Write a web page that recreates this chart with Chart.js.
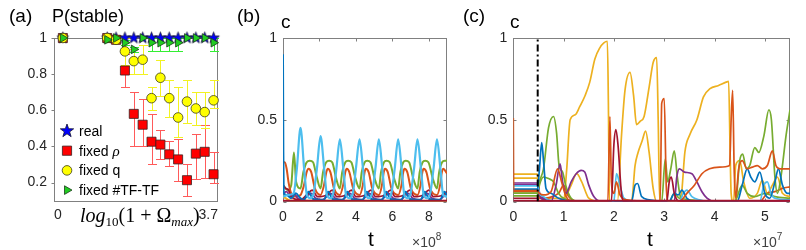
<!DOCTYPE html>
<html><head><meta charset="utf-8">
<script src="https://cdn.jsdelivr.net/npm/chart.js@4.4.1/dist/chart.umd.min.js"></script>
<style>
html,body{margin:0;padding:0;background:#fff;}
#wrap{position:relative;width:806px;height:250px;overflow:hidden;background:#fff;}
#wrap canvas{position:absolute;top:0;}
</style></head><body>
<div id="wrap">
<canvas id="ca" width="230" height="250" style="left:0px;width:230px;height:250px"></canvas>
<canvas id="cb" width="225" height="250" style="left:230px;width:225px;height:250px"></canvas>
<canvas id="cc" width="351" height="250" style="left:455px;width:351px;height:250px"></canvas>
</div>
<script>
// ================= DATA =================
// ---- panel (a): P(stable) vs log10(1+Omega_max) ----
const omegaA = [0.2, 1.2, 1.4, 1.6, 1.8, 2.0, 2.2, 2.4, 2.6, 2.8, 3.0, 3.2, 3.4, 3.6];
const pReal  = [1, 1, 1, 1, 1, 1, 1, 1, 1, 1, 1, 1, 1, 1];
const pRho   = [1, 1, 0.99, 0.82, 0.58, 0.52, 0.426, 0.41, 0.356, 0.328, 0.213, 0.36, 0.37, 0.246];
const pRhoLo = [1, 1, 0.99, 0.73, 0.40, 0.40, 0.30, 0.33, 0.29, 0.21, 0.125, 0.22, 0.225, 0.20];
const pRhoHi = [1, 1, 0.99, 0.91, 0.70, 0.66, 0.58, 0.49, 0.43, 0.44, 0.30, 0.47, 0.52, 0.37];
const pQ     = [1, 1, 0.99, 0.926, 0.872, 0.88, 0.667, 0.78, 0.667, 0.56, 0.648, 0.61, 0.59, 0.655];
const pQLo   = [1, 1, 0.99, 0.85, 0.80, 0.80, 0.60, 0.68, 0.56, 0.45, 0.53, 0.52, 0.50, 0.61];
const pQHi   = [1, 1, 0.99, 1.0, 0.94, 0.96, 0.73, 0.877, 0.77, 0.73, 0.77, 0.70, 0.70, 0.77];
const pTF    = [1, 0.99, 1, 0.974, 0.937, 1, 0.974, 0.974, 0.974, 0.974, 1, 1, 1, 0.974];
const pTFLo  = [1, 0.99, 1, 0.96, 0.92, 1, 0.928, 0.928, 0.928, 0.928, 1, 1, 1, 0.928];
const pTFHi  = [1, 0.99, 1, 0.99, 0.95, 1, 1.0, 1.0, 1.0, 1.0, 1, 1, 1, 1.0];
const legendNamesA = ['real', 'fixed ρ', 'fixed q', 'fixed #TF-TF'];
const xTicksA = [0, 3.7];
const xTickLabelsA = ['0', '3.7'];
const yTicksA = [0.2, 0.4, 0.6, 0.8, 1];
const yTickLabelsA = ['0.2', '0.4', '0.6', '0.8', '1'];

// ---- panel (b): c vs t (units of 1e8) ----
const bLightBlue = [[0,0.03],[0.3,0.04],[0.58,0.05],[0.76,0.2],[0.96,0.45],[1.16,0.2],[1.31,0.04],[1.5,0.02],[1.68,0.05],[1.86,0.2],[2.06,0.40],[2.26,0.2],[2.41,0.04],[2.6,0.02],[2.76,0.05],[2.93,0.2],[3.12,0.38],[3.31,0.2],[3.46,0.04],[3.65,0.02],[3.83,0.05],[4.0,0.2],[4.2,0.38],[4.39,0.2],[4.54,0.04],[4.72,0.02],[4.89,0.05],[5.07,0.2],[5.26,0.38],[5.45,0.2],[5.6,0.04],[5.78,0.02],[5.95,0.05],[6.13,0.2],[6.32,0.38],[6.51,0.2],[6.66,0.04],[6.84,0.02],[7.01,0.05],[7.19,0.2],[7.38,0.38],[7.57,0.2],[7.72,0.04],[7.9,0.02],[8.08,0.05],[8.26,0.2],[8.45,0.38],[8.64,0.2],[8.79,0.04],[9,0.03]];
const bGreen = [[0,0.1],[0.25,0.07],[0.45,0.1],[0.6,0.3],[0.72,0.12],[0.96,0.08],[1.12,0.18],[1.3,0.24],[1.47,0.25],[1.65,0.24],[1.85,0.15],[2.06,0.08],[2.2,0.18],[2.37,0.24],[2.53,0.25],[2.7,0.24],[2.92,0.14],[3.12,0.08],[3.25,0.18],[3.42,0.24],[3.57,0.25],[3.75,0.24],[3.98,0.14],[4.2,0.08],[4.32,0.18],[4.48,0.24],[4.62,0.25],[4.8,0.24],[5.03,0.14],[5.26,0.08],[5.38,0.18],[5.54,0.24],[5.68,0.25],[5.86,0.24],[6.1,0.14],[6.32,0.08],[6.44,0.18],[6.6,0.24],[6.74,0.25],[6.92,0.24],[7.15,0.14],[7.38,0.08],[7.5,0.18],[7.66,0.24],[7.8,0.25],[7.98,0.24],[8.22,0.14],[8.45,0.08],[8.57,0.18],[8.73,0.24],[8.88,0.25],[9,0.25]];
const bOrange = [[0,0.24],[0.1,0.24],[0.2,0.2],[0.3,0.12],[0.45,0.05],[0.7,0.03],[0.96,0.04],[1.15,0.1],[1.3,0.18],[1.4,0.2],[1.55,0.18],[1.75,0.08],[2.06,0.04],[2.25,0.1],[2.38,0.18],[2.46,0.2],[2.6,0.18],[2.8,0.08],[3.12,0.04],[3.3,0.1],[3.42,0.18],[3.5,0.2],[3.64,0.18],[3.85,0.08],[4.2,0.04],[4.38,0.1],[4.48,0.18],[4.55,0.2],[4.7,0.18],[4.9,0.08],[5.26,0.04],[5.43,0.1],[5.53,0.18],[5.6,0.2],[5.75,0.18],[5.95,0.08],[6.32,0.04],[6.5,0.1],[6.6,0.18],[6.67,0.2],[6.82,0.18],[7.02,0.08],[7.38,0.04],[7.55,0.1],[7.65,0.18],[7.72,0.2],[7.87,0.18],[8.07,0.08],[8.45,0.04],[8.62,0.1],[8.72,0.18],[8.8,0.2],[8.95,0.18],[9,0.17]];
const bBlue = [[0,0.9],[0.02,0.3],[0.04,0.05],[0.2,0.04],[0.45,0.02],[0.7,0.05],[0.96,0.02],[1.15,0.01],[1.4,0.06],[1.65,0.015],[2.06,0.01],[2.25,0.01],[2.48,0.06],[2.72,0.015],[3.12,0.01],[3.3,0.01],[3.53,0.06],[3.77,0.015],[4.2,0.01],[4.38,0.01],[4.6,0.06],[4.84,0.015],[5.26,0.01],[5.44,0.01],[5.66,0.06],[5.9,0.015],[6.32,0.01],[6.5,0.01],[6.72,0.06],[6.96,0.015],[7.38,0.01],[7.56,0.01],[7.78,0.06],[8.02,0.015],[8.45,0.01],[8.63,0.01],[8.85,0.06],[9,0.04]];
const bPurple = [[0,0.05],[0.2,0.06],[0.4,0.03],[0.6,0.05],[0.8,0.02],[1.1,0.01],[1.3,0.03],[1.55,0.05],[1.8,0.02],[2.15,0.01],[2.4,0.03],[2.62,0.05],[2.87,0.02],[3.22,0.01],[3.47,0.03],[3.68,0.05],[3.93,0.02],[4.3,0.01],[4.55,0.03],[4.75,0.05],[5.0,0.02],[5.36,0.01],[5.6,0.03],[5.8,0.05],[6.05,0.02],[6.42,0.01],[6.67,0.03],[6.87,0.05],[7.12,0.02],[7.48,0.01],[7.73,0.03],[7.93,0.05],[8.18,0.02],[8.55,0.01],[8.8,0.03],[9,0.05]];
const bDarkRed = [[0,0.1],[0.15,0.08],[0.3,0.07],[0.45,0.03],[0.96,0.01],[1.3,0.04],[1.6,0.07],[1.9,0.03],[2.4,0.04],[2.7,0.07],[2.95,0.03],[3.45,0.04],[3.75,0.07],[4.0,0.03],[4.52,0.04],[4.82,0.07],[5.08,0.03],[5.6,0.04],[5.9,0.07],[6.15,0.03],[6.65,0.04],[6.95,0.07],[7.2,0.03],[7.7,0.04],[8.0,0.07],[8.25,0.03],[8.78,0.04],[9,0.06]];
const bYellow = [[0,0.03],[0.15,0.02],[0.4,0.005],[9,0.003]];
const bBase = [[0,0.003],[9,0.003]];
const xTicksB = [0, 2, 4, 6, 8];
const xTickLabelsB = ['0', '2', '4', '6', '8'];
const yTicksBC = [0, 0.5, 1];
const yTickLabelsBC = ['0', '0.5', '1'];

// ---- panel (c): c vs t (units of 1e7) ----
const cYellow1 = [[0,0.168],[0.48,0.168],[0.52,0.05],[0.6,0.01],[1.0,0.0],[1.06,0.19],[1.13,0.5],[1.23,0.53],[1.32,0.58],[1.43,0.65],[1.52,0.73],[1.62,0.87],[1.72,0.94],[1.8,0.97],[1.87,0.98],[1.89,0.6],[1.91,0.0],[2.07,0.0],[2.15,0.4],[2.22,0.68],[2.32,0.79],[2.39,0.65],[2.45,0.47],[2.52,0.49],[2.6,0.52],[2.7,0.7],[2.78,0.85],[2.85,0.88],[2.88,0.5],[2.91,0.0],[3.33,0.0],[3.36,0.1],[3.41,0.3],[3.51,0.41],[3.65,0.5],[3.78,0.64],[3.91,0.69],[4.08,0.71],[4.23,0.73],[4.28,0.735],[4.31,0.3],[4.33,0.05],[4.37,0.0],[5.5,0.0]];
const cYellow2 = [[0,0.143],[0.48,0.143],[0.52,0.03],[0.7,0.02],[1.0,0.02],[1.15,0.1],[1.26,0.17],[1.36,0.12],[1.5,0.02],[1.7,0.0],[2.35,0.0],[2.42,0.22],[2.48,0.3],[2.56,0.37],[2.63,0.43],[2.7,0.3],[2.78,0.08],[2.85,0.0],[4.38,0.0],[4.42,0.22],[4.5,0.25],[4.58,0.12],[4.7,0.02],[4.85,0.05],[4.95,0.13],[5.05,0.05],[5.15,0.1],[5.25,0.15],[5.35,0.05],[5.5,0.03]];
const cOrange1 = [[0,0.51],[0.008,0.066],[0.48,0.066],[0.52,0.05],[0.6,0.04],[0.75,0.06],[0.88,0.2],[0.96,0.12],[1.05,0.03],[1.2,0.0],[1.88,0.0],[1.92,0.52],[1.95,0.12],[2.0,0.05],[2.05,0.12],[2.12,0.04],[2.25,0.01],[2.92,0.0],[2.95,0.6],[3.0,0.63],[3.04,0.1],[3.08,0.0],[3.3,0.0],[3.45,0.05],[3.6,0.1],[3.75,0.17],[3.9,0.2],[4.1,0.21],[4.3,0.22],[4.33,0.5],[4.36,0.68],[4.39,0.2],[4.42,0.02],[4.48,0.2],[4.55,0.25],[4.65,0.2],[4.75,0.21],[4.85,0.22],[4.95,0.2],[5.05,0.22],[5.15,0.31],[5.22,0.22],[5.3,0.2],[5.5,0.2]];
const cOrange2 = [[0,0.061],[0.48,0.061],[0.52,0.02],[0.9,0.05],[1.0,0.1],[1.1,0.03],[1.3,0.0],[4.9,0.0],[5.05,0.05],[5.2,0.06],[5.35,0.08],[5.5,0.09]];
const cGreen1 = [[0,0.051],[0.48,0.051],[0.52,0.12],[0.6,0.2],[0.7,0.45],[0.8,0.52],[0.86,0.42],[0.91,0.22],[0.98,0.18],[1.04,0.1],[1.15,0.02],[1.3,0.0],[2.95,0.0],[3.02,0.26],[3.07,0.12],[3.13,0.2],[3.2,0.31],[3.26,0.15],[3.33,0.02],[3.45,0.0],[4.42,0.0],[4.5,0.25],[4.56,0.29],[4.63,0.2],[4.7,0.22],[4.8,0.33],[4.88,0.3],[4.98,0.4],[5.08,0.56],[5.13,0.5],[5.2,0.15],[5.25,0.05],[5.32,0.15],[5.42,0.4],[5.5,0.56]];
const cGreen2 = [[0,0.035],[0.48,0.035],[0.52,0.1],[0.6,0.15],[0.7,0.14],[0.8,0.12],[0.9,0.05],[1.0,0.02],[1.4,0.0],[3.1,0.0],[3.2,0.05],[3.3,0.02],[4.4,0.0],[4.55,0.1],[4.65,0.05],[4.8,0.03],[5.0,0.05],[5.2,0.03],[5.5,0.02]];
const cBlue = [[0,0.076],[0.48,0.076],[0.52,0.2],[0.565,0.36],[0.6,0.25],[0.65,0.08],[0.75,0.05],[0.9,0.02],[1.2,0.0],[2.35,0.0],[2.42,0.1],[2.47,0.11],[2.55,0.03],[2.7,0.01],[3.1,0.0],[3.2,0.05],[3.28,0.04],[3.35,0.07],[3.45,0.02],[3.6,0.0],[4.45,0.0],[4.55,0.1],[4.65,0.2],[4.72,0.15],[4.8,0.12],[4.9,0.18],[5.0,0.05],[5.1,0.02],[5.2,0.12],[5.27,0.2],[5.35,0.1],[5.45,0.05],[5.5,0.05]];
const cLightBlue = [[0,0.096],[0.48,0.096],[0.52,0.05],[0.6,0.03],[0.7,0.01],[1.0,0.0],[2.0,0.0],[2.05,0.17],[2.12,0.1],[2.2,0.02],[2.4,0.0],[3.3,0.0],[3.38,0.05],[3.45,0.07],[3.55,0.03],[3.7,0.01],[3.9,0.0],[4.9,0.0],[4.98,0.1],[5.05,0.12],[5.12,0.05],[5.2,0.02],[5.5,0.01]];
const cPurple1 = [[0,0.113],[0.48,0.113],[0.52,0.04],[0.6,0.02],[0.75,0.0],[0.85,0.1],[0.93,0.23],[0.98,0.12],[1.05,0.05],[1.15,0.12],[1.25,0.17],[1.35,0.19],[1.42,0.18],[1.5,0.1],[1.6,0.03],[1.75,0.0],[3.2,0.0],[3.25,0.15],[3.3,0.2],[3.4,0.18],[3.55,0.17],[3.65,0.12],[3.75,0.06],[3.85,0.02],[4.0,0.0],[5.5,0.0]];
const cPurple2 = [[0,0.102],[0.48,0.102],[0.55,0.02],[0.8,0.0],[5.5,0.0]];
const cDarkRed = [[0,0.02],[0.48,0.02],[0.52,0.0],[1.95,0.0],[2.0,0.35],[2.04,0.44],[2.08,0.35],[2.15,0.05],[2.2,0.0],[3.05,0.0],[3.1,0.12],[3.14,0.15],[3.2,0.05],[3.3,0.0],[5.5,0.0]];
const cBase = [[0,0.003],[5.5,0.003]];
const cMarkerT = [0.485];
const xTicksC = [0, 1, 2, 3, 4, 5];
const xTickLabelsC = ['0', '1', '2', '3', '4', '5'];

// ================= STYLE / HELPERS =================
const SANS = "'Liberation Sans', Arial, Helvetica, sans-serif";
const SERIF = "'Liberation Serif', 'Times New Roman', serif";
const COL = {blue:'#0072BD', orange:'#D95319', yellow:'#EDB120', purple:'#7E2F8E', green:'#77AC30', lightblue:'#4DBEEE', darkred:'#A2142F'};
const TICKCOL = '#262626';

function starPath(g, cx, cy, r) {
  const ri = r * 0.4;
  g.beginPath();
  for (let i = 0; i < 10; i++) {
    const a = -Math.PI / 2 + i * Math.PI / 5;
    const rr = i % 2 === 0 ? r : ri;
    const x = cx + rr * Math.cos(a), y = cy + rr * Math.sin(a);
    if (i === 0) g.moveTo(x, y); else g.lineTo(x, y);
  }
  g.closePath();
}
function starImage(r, fill, stroke) {
  const c = document.createElement('canvas');
  const s = Math.ceil(2 * r + 3);
  c.width = s; c.height = s;
  const g = c.getContext('2d');
  starPath(g, s / 2, s / 2, r);
  g.fillStyle = fill; g.fill();
  g.lineWidth = 0.8; g.strokeStyle = stroke; g.stroke();
  return c;
}
function drawMarker(ctx, kind, x, y, s) {
  ctx.save();
  ctx.fillStyle = s.fill; ctx.strokeStyle = s.stroke; ctx.lineWidth = 0.8;
  if (kind === 'star') starPath(ctx, x, y, s.r);
  else {
    ctx.beginPath();
    if (kind === 'rect') ctx.rect(x - s.r, y - s.r, 2 * s.r, 2 * s.r);
    else if (kind === 'circle') ctx.arc(x, y, s.r, 0, 2 * Math.PI);
    else if (kind === 'triR') { ctx.moveTo(x + s.r, y); ctx.lineTo(x - s.r * 0.5, y - s.r * 0.866); ctx.lineTo(x - s.r * 0.5, y + s.r * 0.866); ctx.closePath(); }
  }
  ctx.fill(); ctx.stroke();
  ctx.restore();
}
function pairsToXY(arr) { return arr.map(p => ({x: p[0], y: p[1]})); }
function colsToXY(xs, ys) { return xs.map((x, i) => ({x: x, y: ys[i]})); }
function lineDS(arr, color, w) {
  return {data: pairsToXY(arr), borderColor: color, backgroundColor: color, borderWidth: w,
          pointRadius: 0, fill: false, cubicInterpolationMode: 'monotone'};
}

// frame + ticks (uses the chart's scales)
const framePlugin = {
  id: 'frame',
  beforeDatasetsDraw(chart, args, o) {
    const {ctx, chartArea: a, scales} = chart;
    ctx.save();
    ctx.strokeStyle = o.color || '#808080'; ctx.lineWidth = 1;
    const L = Math.round(a.left) + 0.5, R = Math.round(a.right) - 0.5, T = Math.round(a.top) + 0.5, B = Math.round(a.bottom) - 0.5;
    ctx.strokeRect(L, T, R - L, B - T);
    ctx.beginPath();
    const tl = o.tickLen || 3;
    if (o.xIn) scales.x.ticks.forEach(t => {
      const px = Math.round(scales.x.getPixelForValue(t.value)) + 0.5;
      ctx.moveTo(px, B); ctx.lineTo(px, B - tl); ctx.moveTo(px, T); ctx.lineTo(px, T + tl);
    });
    if (o.yIn) scales.y.ticks.forEach(t => {
      const py = Math.round(scales.y.getPixelForValue(t.value)) + 0.5;
      ctx.moveTo(L, py); ctx.lineTo(L + tl, py); ctx.moveTo(R, py); ctx.lineTo(R - tl, py);
    });
    if (o.yOut) scales.y.ticks.forEach(t => {
      const py = Math.round(scales.y.getPixelForValue(t.value)) + 0.5;
      ctx.moveTo(L, py); ctx.lineTo(L - tl, py);
    });
    ctx.stroke();
    ctx.restore();
  }
};

// free texts (titles, axis labels) with rich runs
const textPlugin = {
  id: 'texts',
  afterDraw(chart, args, o) {
    const ctx = chart.ctx, off = o.offsetX || 0;
    ctx.save();
    ctx.textBaseline = 'alphabetic'; ctx.textAlign = 'left';
    (o.items || []).forEach(it => {
      const runs = it.runs || [{t: it.text, f: it.font}];
      let total = 0;
      runs.forEach(r => { ctx.font = r.f; total += ctx.measureText(r.t).width + (r.dx || 0); });
      let x = it.x - off;
      if (it.align === 'center') x -= total / 2; else if (it.align === 'right') x -= total;
      ctx.fillStyle = it.color || '#000';
      runs.forEach(r => { ctx.font = r.f; ctx.fillText(r.t, x, it.y + (r.dy || 0)); x += ctx.measureText(r.t).width + (r.dx || 0); });
    });
    ctx.restore();
  }
};

// error bars for panel (a)
const errPlugin = {
  id: 'errbars',
  beforeDatasetsDraw(chart) {
    const ctx = chart.ctx, xs = chart.scales.x, ys = chart.scales.y;
    ctx.save(); ctx.lineWidth = 1;
    chart.data.datasets.slice().reverse().forEach(ds => {
      if (!ds.errLo) return;
      ctx.strokeStyle = ds.errColor;
      ds.data.forEach((p, i) => {
        const lo = ds.errLo[i], hi = ds.errHi[i];
        if (hi - lo < 1e-6) return;
        const px = Math.round(xs.getPixelForValue(p.x)) + 0.5;
        const y1 = Math.round(ys.getPixelForValue(lo)) + 0.5, y2 = Math.round(ys.getPixelForValue(hi)) + 0.5;
        const w = 4.5;
        ctx.beginPath();
        ctx.moveTo(px, y1); ctx.lineTo(px, y2);
        ctx.moveTo(px - w, y1); ctx.lineTo(px + w, y1);
        ctx.moveTo(px - w, y2); ctx.lineTo(px + w, y2);
        ctx.stroke();
      });
    });
    ctx.restore();
  }
};

// legend for panel (a), inside the axes
const legendAPlugin = {
  id: 'legendA',
  afterDatasetsDraw(chart, args, o) {
    const ctx = chart.ctx;
    const a = chart.chartArea;
    const mx = a.left + o.markerDx, tx = a.left + o.textDx;
    ctx.save();
    ctx.textBaseline = 'alphabetic'; ctx.textAlign = 'left'; ctx.fillStyle = '#000';
    o.rows.forEach((row, i) => {
      const y = a.top + o.firstDy + i * o.rowH;
      drawMarker(ctx, row.kind, mx, y, row.style);
      let x = tx;
      const name = legendNamesA[i];
      const parts = name.split('ρ');
      parts.forEach((p, k) => {
        ctx.font = '14px ' + SANS; ctx.fillText(p, x, y + 5); x += ctx.measureText(p).width;
        if (k < parts.length - 1) { ctx.font = 'italic 15px ' + SERIF; ctx.fillText('ρ', x, y + 5); x += ctx.measureText('ρ').width; }
      });
    });
    ctx.restore();
  }
};

const tickFont = {family: SANS, size: 14};
function fixedTicks(vals) { return s => { s.ticks = vals.map(v => ({value: v})); }; }

// ================= PANEL (a) =================
const starData = starImage(6, '#0000ff', '#101030');
function pointDS(label, ys, lo, hi, extra) {
  return Object.assign({label: label, data: colsToXY(omegaA, ys), errLo: lo, errHi: hi, clip: false,
    pointBorderWidth: 0.8, showLine: false}, extra);
}
new Chart(document.getElementById('ca'), {
  type: 'scatter',
  data: {datasets: [
    pointDS(legendNamesA[3], pTF, pTFLo, pTFHi, {pointStyle: 'triangle', pointRotation: 90, pointRadius: 5, pointBackgroundColor: '#22cc22', pointBorderColor: '#1b3a1b', errColor: '#33ee33'}),
    pointDS(legendNamesA[2], pQ, pQLo, pQHi, {pointStyle: 'circle', pointRadius: 4.8, pointBackgroundColor: '#ffff00', pointBorderColor: '#3a3a20', errColor: '#f2f222'}),
    pointDS(legendNamesA[1], pRho, pRhoLo, pRhoHi, {pointStyle: 'rect', pointRadius: 6.4, pointBackgroundColor: '#ff0000', pointBorderColor: '#3a2020', errColor: '#ff5a5a'}),
    pointDS(legendNamesA[0], pReal, null, null, {pointStyle: starData, pointRadius: 6, pointBackgroundColor: '#0000ff', pointBorderColor: '#101030'})
  ]},
  options: {
    responsive: false, animation: false, devicePixelRatio: 1,
    layout: {padding: {left: 0, right: 12, top: 38, bottom: 0}},
    plugins: {
      legend: {display: false}, tooltip: {enabled: false},
      frame: {color: '#808080', yOut: true, tickLen: 3},
      legendA: {markerDx: 13, textDx: 25, firstDy: 93, rowH: 19.7, rows: [
        {kind: 'star', style: {r: 7, fill: '#0000ff', stroke: '#101030'}},
        {kind: 'rect', style: {r: 4.6, fill: '#ff0000', stroke: '#3a2020'}},
        {kind: 'circle', style: {r: 4.8, fill: '#ffff00', stroke: '#3a3a20'}},
        {kind: 'triR', style: {r: 5, fill: '#22cc22', stroke: '#1b3a1b'}}
      ]},
      texts: {offsetX: 0, items: [
        {text: '(a)', font: '19px ' + SANS, x: 9, y: 22},
        {text: 'P(stable)', font: '18px ' + SANS, x: 52, y: 22},
        {x: 80, y: 222, runs: [
          {t: 'log', f: 'italic 20px ' + SERIF},
          {t: '10', f: '13px ' + SERIF, dy: 4},
          {t: '(1 + Ω', f: '20px ' + SERIF},
          {t: 'max', f: 'italic 13px ' + SERIF, dy: 4},
          {t: ')', f: '20px ' + SERIF}
        ]}
      ]}
    },
    scales: {
      x: {type: 'linear', min: 0, max: 3.7, afterBuildTicks: fixedTicks(xTicksA),
          ticks: {align: 'inner', autoSkip: false, maxRotation: 0, font: tickFont, color: TICKCOL, padding: 5, callback: (v, i) => xTickLabelsA[i]},
          grid: {display: false, drawTicks: false}, border: {display: false}, afterFit: s => { s.height = 48.5; }},
      y: {type: 'linear', min: 0.095, max: 1.0, afterBuildTicks: fixedTicks(yTicksA),
          ticks: {autoSkip: false, font: tickFont, color: TICKCOL, padding: 7, callback: (v, i) => yTickLabelsA[i]},
          grid: {display: false, drawTicks: false}, border: {display: false}, afterFit: s => { s.width = 54; }}
    }
  },
  plugins: [framePlugin, errPlugin, legendAPlugin, textPlugin]
});

// ================= PANEL (b) =================
new Chart(document.getElementById('cb'), {
  type: 'line',
  data: {datasets: [
    lineDS(bBase, COL.darkred, 2.5),
    lineDS(bLightBlue, COL.lightblue, 2.2),
    lineDS(bBlue, COL.blue, 2),
    lineDS(bDarkRed, COL.darkred, 1.8),
    lineDS(bPurple, COL.purple, 1.8),
    lineDS(bOrange, COL.orange, 2),
    lineDS(bGreen, COL.green, 2),
    lineDS(bYellow, COL.yellow, 2)
  ]},
  options: {
    responsive: false, animation: false, devicePixelRatio: 1,
    layout: {padding: {left: 0, right: 8, top: 38, bottom: 0}},
    plugins: {
      legend: {display: false}, tooltip: {enabled: false},
      frame: {color: '#808080', xIn: true, yIn: true, tickLen: 3},
      texts: {offsetX: 230, items: [
        {text: '(b)', font: '19px ' + SANS, x: 237, y: 22},
        {text: 'c', font: '19px ' + SANS, x: 281, y: 28},
        {text: 't', font: '21px ' + SANS, x: 371, y: 246, align: 'center'},
        {x: 412, y: 247, runs: [{t: '×10', f: '14px ' + SANS}, {t: '8', f: '10px ' + SANS, dy: -7}], color: '#404040'}
      ]}
    },
    scales: {
      x: {type: 'linear', min: 0, max: 9, afterBuildTicks: fixedTicks(xTicksB),
          ticks: {autoSkip: false, maxRotation: 0, font: tickFont, color: TICKCOL, padding: 7, callback: (v, i) => xTickLabelsB[i]},
          grid: {display: false, drawTicks: false}, border: {display: false}, afterFit: s => { s.height = 48.5; }},
      y: {type: 'linear', min: 0, max: 1, afterBuildTicks: fixedTicks(yTicksBC),
          ticks: {autoSkip: false, font: tickFont, color: TICKCOL, padding: 6, callback: (v, i) => yTickLabelsBC[i]},
          grid: {display: false, drawTicks: false}, border: {display: false}, afterFit: s => { s.width = 53; }}
    }
  },
  plugins: [framePlugin, textPlugin]
});

// ================= PANEL (c) =================
const markerDS = {data: [{x: cMarkerT[0], y: 0}, {x: cMarkerT[0], y: 1}], borderColor: '#000', borderWidth: 2,
  borderDash: [7, 3, 2, 3], pointRadius: 0, fill: false, tension: 0};
new Chart(document.getElementById('cc'), {
  type: 'line',
  data: {datasets: [
    markerDS,
    lineDS(cBase, COL.darkred, 2.5),
    lineDS(cDarkRed, COL.darkred, 1.7),
    lineDS(cOrange1, COL.orange, 1.7),
    lineDS(cBlue, COL.blue, 1.7),
    lineDS(cLightBlue, COL.lightblue, 1.7),
    lineDS(cPurple1, COL.purple, 1.7),
    lineDS(cPurple2, COL.purple, 1.7),
    lineDS(cGreen1, COL.green, 1.7),
    lineDS(cGreen2, COL.green, 1.7),
    lineDS(cOrange2, COL.orange, 1.7),
    lineDS(cYellow2, COL.yellow, 1.7),
    lineDS(cYellow1, COL.yellow, 1.7)
  ]},
  options: {
    responsive: false, animation: false, devicePixelRatio: 1,
    layout: {padding: {left: 0, right: 16, top: 38, bottom: 0}},
    plugins: {
      legend: {display: false}, tooltip: {enabled: false},
      frame: {color: '#808080', xIn: true, yIn: true, tickLen: 3},
      texts: {offsetX: 455, items: [
        {text: '(c)', font: '19px ' + SANS, x: 463, y: 22},
        {text: 'c', font: '19px ' + SANS, x: 510, y: 28},
        {text: 't', font: '21px ' + SANS, x: 650, y: 246, align: 'center'},
        {x: 753, y: 247, runs: [{t: '×10', f: '14px ' + SANS}, {t: '7', f: '10px ' + SANS, dy: -7}], color: '#404040'}
      ]}
    },
    scales: {
      x: {type: 'linear', min: 0, max: 5.5, afterBuildTicks: fixedTicks(xTicksC),
          ticks: {autoSkip: false, maxRotation: 0, font: tickFont, color: TICKCOL, padding: 7, callback: (v, i) => xTickLabelsC[i]},
          grid: {display: false, drawTicks: false}, border: {display: false}, afterFit: s => { s.height = 48.5; }},
      y: {type: 'linear', min: 0, max: 1, afterBuildTicks: fixedTicks(yTicksBC),
          ticks: {autoSkip: false, font: tickFont, color: TICKCOL, padding: 6, callback: (v, i) => yTickLabelsBC[i]},
          grid: {display: false, drawTicks: false}, border: {display: false}, afterFit: s => { s.width = 58.3; }}
    }
  },
  plugins: [framePlugin, textPlugin]
});
</script>
</body></html>
